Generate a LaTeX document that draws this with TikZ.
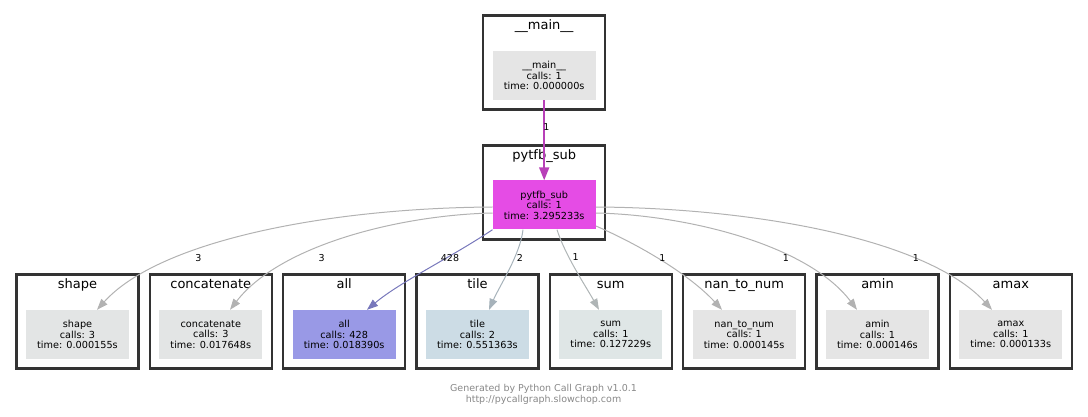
\documentclass[tikz,border=0pt]{standalone}
\usepackage{fontspec}
\setmainfont{DejaVu Sans}
\usepackage{xcolor}
\usetikzlibrary{arrows.meta, positioning}

\definecolor{clusterline}{HTML}{333333}
\definecolor{edgegrey}{HTML}{B2B2B2}
\definecolor{mainedge}{HTML}{B840B8}
\definecolor{alledge}{HTML}{7777BB}
\definecolor{tileedge}{HTML}{A6B2BA}
\definecolor{sumedge}{HTML}{AFB5B6}
\definecolor{greyfill}{HTML}{E5E5E5}
\definecolor{shapefill}{HTML}{E3E5E5}
\definecolor{subfill}{HTML}{E54CE5}
\definecolor{allfill}{HTML}{9999E6}
\definecolor{tilefill}{HTML}{CCDCE5}
\definecolor{sumfill}{HTML}{DFE6E6}
\definecolor{footgrey}{HTML}{888888}

\begin{document}
\begin{tikzpicture}[x=1pt, y=-1pt,
    cluster/.style={draw=clusterline, line width=2.5pt, minimum width=122pt, minimum height=94pt, inner sep=0pt},
    ctitle/.style={font=\fontsize{13}{15}\selectfont, inner sep=0pt, anchor=base},
    func/.style={minimum width=103pt, minimum height=49pt, inner sep=0pt, align=center, font=\fontsize{9.7}{10.5}\selectfont},
    call/.style={draw=edgegrey, line width=1pt, -{Triangle[length=11pt,width=8pt]}},
    cnt/.style={font=\fontsize{9.5}{11}\selectfont, inner sep=0pt}]
    \useasboundingbox (0,0) rectangle (1088,417);

    % Top clusters
    \node[cluster] (mainC) at (544.2, 62.75) {};
    \node[ctitle] (mainT) at ([yshift=-15pt]mainC.north) {\_\_main\_\_};
    \node[func, fill=greyfill] (main) at ([yshift=-12.75pt]mainC.center) {\_\_main\_\_\\calls: 1\\time: 0.000000s};

    \node[cluster] (subC) at (544.2, 192.5) {};
    \node[ctitle] (subT) at ([yshift=-15pt]subC.north) {pytfb\_sub};
    \node[func, fill=subfill] (sub) at ([yshift=-12.5pt]subC.center) {pytfb\_sub\\calls: 1\\time: 3.295233s};

    % Bottom row of clusters
    \node[cluster] (shapeC) at (77.5, 321.25) {};
    \node[ctitle] (shapeT) at ([yshift=-15pt]shapeC.north) {shape};
    \node[func, fill=shapefill] (shape) at ([yshift=-13.25pt]shapeC.center) {shape\\calls: 3\\time: 0.000155s};

    \node[cluster] (concatC) at (210.8, 321.25) {};
    \node[ctitle] (concatT) at ([yshift=-15pt]concatC.north) {concatenate};
    \node[func, fill=shapefill] (concat) at ([yshift=-13.25pt]concatC.center) {concatenate\\calls: 3\\time: 0.017648s};

    \node[cluster] (allC) at (344.2, 321.25) {};
    \node[ctitle] (allT) at ([yshift=-15pt]allC.north) {all};
    \node[func, fill=allfill] (all) at ([yshift=-13.25pt]allC.center) {all\\calls: 428\\time: 0.018390s};

    \node[cluster] (tileC) at (477.5, 321.25) {};
    \node[ctitle] (tileT) at ([yshift=-15pt]tileC.north) {tile};
    \node[func, fill=tilefill] (tile) at ([yshift=-13.25pt]tileC.center) {tile\\calls: 2\\time: 0.551363s};

    \node[cluster] (sumC) at (610.8, 321.25) {};
    \node[ctitle] (sumT) at ([yshift=-15pt]sumC.north) {sum};
    \node[func, fill=sumfill] (sum) at ([yshift=-13.25pt]sumC.center) {sum\\calls: 1\\time: 0.127229s};

    \node[cluster] (nanC) at (744.2, 321.25) {};
    \node[ctitle] (nanT) at ([yshift=-15pt]nanC.north) {nan\_to\_num};
    \node[func, fill=greyfill] (nan) at ([yshift=-13.25pt]nanC.center) {nan\_to\_num\\calls: 1\\time: 0.000145s};

    \node[cluster] (aminC) at (877.5, 321.25) {};
    \node[ctitle] (aminT) at ([yshift=-15pt]aminC.north) {amin};
    \node[func, fill=greyfill] (amin) at ([yshift=-13.25pt]aminC.center) {amin\\calls: 1\\time: 0.000146s};

    \node[cluster] (amaxC) at (1010.8, 321.25) {};
    \node[ctitle] (amaxT) at ([yshift=-15pt]amaxC.north) {amax};
    \node[func, fill=greyfill] (amax) at ([yshift=-13.25pt]amaxC.center) {amax\\calls: 1\\time: 0.000133s};

    % Calls
    \draw[call, draw=mainedge, line width=1.8pt, -{Triangle[length=13pt,width=10pt]}] (main) -- (sub);
    \node[cnt] (mainN) at (546.5, 127.5) {1};

    \draw[call] ([yshift=-2pt]sub.west) .. controls (330,208) and (160,240) .. ([xshift=19.5pt]shape.north);
    \node[cnt] (shapeN) at (198.3, 257.7) {3};

    \draw[call] ([yshift=-8pt]sub.west) .. controls (400,215) and (280,245) .. ([xshift=19.2pt]concat.north);
    \node[cnt] (concatN) at (321.7, 257.7) {3};

    \draw[call, draw=alledge] (sub.south west) .. controls (450,258) and (400,282) .. ([xshift=22.8pt]all.north);
    \node[cnt] (allN) at (450, 257.7) {428};

    \draw[call, draw=tileedge] ([xshift=-21.2pt]sub.south) .. controls (520,255) and (500,285) .. ([xshift=11.5pt]tile.north);
    \node[cnt] (tileN) at (520, 257.5) {2};

    \draw[call, draw=sumedge] ([xshift=12.8pt]sub.south) .. controls (565,255) and (585,285) .. ([xshift=-11.8pt]sum.north);
    \node[cnt] (sumN) at (575.7, 257.5) {1};

    \draw[call] ([yshift=-21pt]sub.east) .. controls (640,245) and (690,275) .. ([xshift=-22.2pt]nan.north);
    \node[cnt] (nanN) at (662.5, 257.8) {1};

    \draw[call] ([yshift=-8pt]sub.east) .. controls (688,215) and (808,245) .. ([xshift=-20.5pt]amin.north);
    \node[cnt] (aminN) at (785.8, 257.8) {1};

    \draw[call] ([yshift=-2pt]sub.east) .. controls (758,208) and (928,240) .. ([xshift=-18.8pt]amax.north);
    \node[cnt] (amaxN) at (915.8, 257.8) {1};

    % Footer
    \node[cnt, text=footgrey, align=center, font=\fontsize{9.5}{11}\selectfont] (footer) at (543.5, 394.5) {Generated by Python Call Graph v1.0.1\\http://pycallgraph.slowchop.com};
\end{tikzpicture}
\end{document}
